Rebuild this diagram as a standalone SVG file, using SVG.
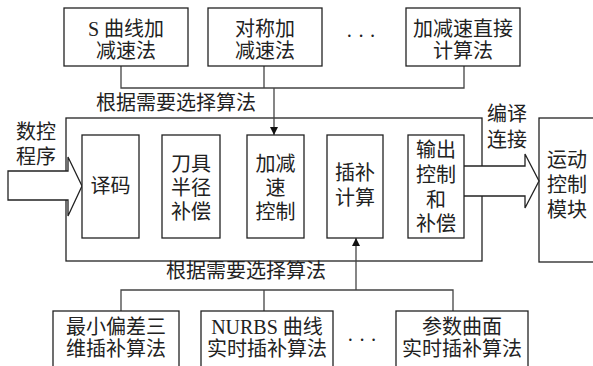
<svg xmlns="http://www.w3.org/2000/svg" width="593" height="366" viewBox="0 0 593 366">
<style>
.box{fill:#fff;stroke:#222;stroke-width:1.3}
.ln{fill:none;stroke:#444;stroke-width:1.3}
.big{fill:#fff;stroke:#222;stroke-width:1.3}
text{font-family:"Liberation Serif","Noto Sans CJK SC",serif;font-size:20px;fill:#222;text-anchor:middle;dominant-baseline:central}
</style>
<defs>
<marker id="ah" viewBox="0 0 10 10" refX="10" refY="5" markerWidth="8" markerHeight="8" markerUnits="userSpaceOnUse" orient="auto">
<path d="M0,0 L10,5 L0,10 Z" fill="#111"/>
</marker>
</defs>
<rect width="593" height="366" fill="#fff"/>
<g id="outer"><rect class="big" x="66" y="118" width="416" height="143"/></g>
<g id="motion"><rect class="box" x="539" y="118" width="70" height="144"/>
<text x="567" y="160">运动</text><text x="567" y="185">控制</text><text x="567" y="210">模块</text></g>
<g id="connectors">
<path class="ln" d="M121,66 V88 H464 V66 M264,66 V88"/>
<path class="ln" d="M274,88 V135" marker-end="url(#ah)"/>
<path class="ln" d="M121,311 V290 H453 V311 M264,311 V290"/>
<path class="ln" d="M356,290 V238" marker-end="url(#ah)"/>
<path d="M8,171 H68 V157 L82,186 L68,216 V200 H8 Z" fill="#fff" stroke="#222" stroke-width="1.3"/>
<path d="M464,166 H525 V154 L539,181 L525,208 V196 H464" fill="#fff" stroke="#222" stroke-width="1.3"/>
</g>
<g id="s-curve"><rect class="box" x="64" y="8" width="124" height="58"/>
<text x="126" y="29">S 曲线加</text><text x="126" y="51">减速法</text></g>
<g id="symmetric"><rect class="box" x="208" y="8" width="114" height="58"/>
<text x="265" y="29">对称加</text><text x="265" y="51">减速法</text></g>
<text x="361" y="36">· · ·</text>
<g id="direct"><rect class="box" x="406" y="8" width="114" height="58"/>
<text x="463" y="29">加减速直接</text><text x="463" y="51">计算法</text></g>
<text x="176" y="103">根据需要选择算法</text>
<text x="36" y="132">数控</text><text x="36" y="157">程序</text>
<text x="507" y="114">编译</text><text x="507" y="140">连接</text>
<g id="decode"><rect class="box" x="82" y="135" width="57" height="103"/>
<text x="110.5" y="186">译码</text></g>
<g id="tool"><rect class="box" x="162" y="135" width="58" height="103"/>
<text x="191" y="164">刀具</text><text x="191" y="188">半径</text><text x="191" y="212">补偿</text></g>
<g id="accdec"><rect class="box" x="247" y="135" width="57" height="103"/>
<text x="275.5" y="164">加减</text><text x="275.5" y="188">速</text><text x="275.5" y="212">控制</text></g>
<g id="interp"><rect class="box" x="327" y="135" width="56" height="103"/>
<text x="355" y="173">插补</text><text x="355" y="198">计算</text></g>
<g id="output"><rect class="box" x="408" y="135" width="56" height="103"/>
<text x="436" y="150">输出</text><text x="436" y="175">控制</text><text x="436" y="200">和</text><text x="436" y="224">补偿</text></g>
<text x="246" y="271">根据需要选择算法</text>
<g id="minerr"><rect class="box" x="53" y="311" width="126" height="58"/>
<text x="116" y="327">最小偏差三</text><text x="116" y="349">维插补算法</text></g>
<g id="nurbs"><rect class="box" x="201" y="311" width="132" height="58"/>
<text x="267" y="327">NURBS 曲线</text><text x="267" y="349">实时插补算法</text></g>
<text x="362" y="340">· · ·</text>
<g id="param"><rect class="box" x="396" y="311" width="132" height="58"/>
<text x="462" y="327">参数曲面</text><text x="462" y="349">实时插补算法</text></g>
</svg>
